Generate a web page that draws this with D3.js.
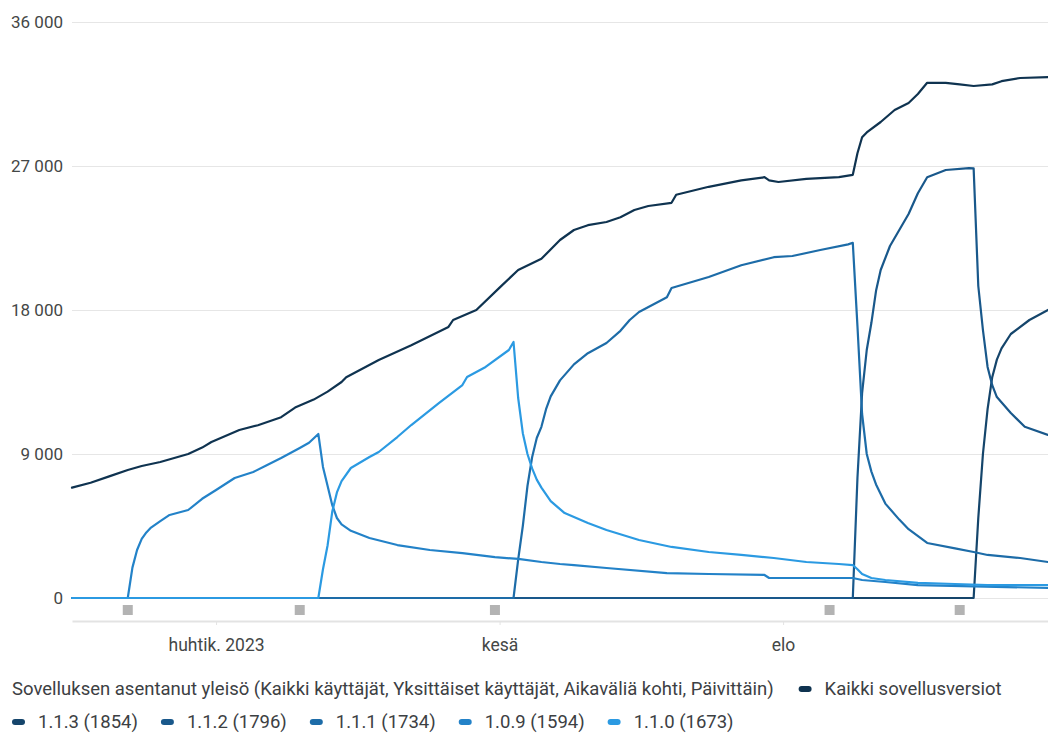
<!DOCTYPE html>
<html>
<head>
<meta charset="utf-8">
<script src="https://cdn.jsdelivr.net/npm/d3@7"></script>
<style>
  html, body { margin: 0; padding: 0; background: #ffffff; }
  svg { display: block; font-family: Roboto, "Noto Sans", sans-serif; }
</style>
</head>
<body>
<svg id="chart" width="1048" height="734"></svg>
<script>
// Daily installed audience per app version, March – September 2023
const yTicks = [0, 9000, 18000, 27000, 36000];
const xTickDates = ["2023-04-01", "2023-06-01", "2023-08-01"];
const xTickLabels = ["huhtik. 2023", "kesä", "elo"];
const releaseDates = ["2023-03-13", "2023-04-19", "2023-05-31", "2023-08-11", "2023-09-08"];

const seriesNames = ["Kaikki sovellusversiot", "1.1.3 (1854)", "1.1.2 (1796)", "1.1.1 (1734)", "1.0.9 (1594)", "1.1.0 (1673)"];
const seriesColors = ["#0f3350", "#15456b", "#19588b", "#1d6ca8", "#2382c8", "#2b9ae2"];
const legendTitle = "Sovelluksen asentanut yleisö (Kaikki käyttäjät, Yksittäiset käyttäjät, Aikaväliä kohti, Päivittäin)";

const allVersions = [
  ["2023-03-01", 6900], ["2023-03-05", 7200], ["2023-03-09", 7600], ["2023-03-13", 8000],
  ["2023-03-16", 8250], ["2023-03-20", 8500], ["2023-03-26", 9000], ["2023-03-29", 9400],
  ["2023-03-31", 9750], ["2023-04-06", 10500], ["2023-04-10", 10800], ["2023-04-15", 11300],
  ["2023-04-18", 11900], ["2023-04-22", 12400], ["2023-04-25", 12900], ["2023-04-28", 13500],
  ["2023-04-29", 13800], ["2023-05-06", 14875], ["2023-05-13", 15800], ["2023-05-21", 16940],
  ["2023-05-22", 17375], ["2023-05-27", 18000], ["2023-06-01", 19400], ["2023-06-05", 20500],
  ["2023-06-10", 21200], ["2023-06-14", 22375], ["2023-06-17", 23000], ["2023-06-20", 23300],
  ["2023-06-24", 23500], ["2023-06-27", 23800], ["2023-06-30", 24250], ["2023-07-03", 24500],
  ["2023-07-08", 24700], ["2023-07-09", 25200], ["2023-07-16", 25700], ["2023-07-23", 26100],
  ["2023-07-28", 26300], ["2023-07-29", 26100], ["2023-07-31", 26000], ["2023-08-06", 26200],
  ["2023-08-13", 26300], ["2023-08-16", 26450], ["2023-08-17", 27800], ["2023-08-18", 28800],
  ["2023-08-19", 29100], ["2023-08-22", 29750], ["2023-08-25", 30500], ["2023-08-28", 30940],
  ["2023-08-30", 31500], ["2023-09-01", 32200], ["2023-09-05", 32200], ["2023-09-08", 32100],
  ["2023-09-11", 32000], ["2023-09-15", 32100], ["2023-09-17", 32300], ["2023-09-21", 32500],
  ["2023-09-27", 32560]
];

const v113 = [
  ["2023-03-01", 0], ["2023-09-11", 0], ["2023-09-12", 5000], ["2023-09-13", 9000],
  ["2023-09-14", 11800], ["2023-09-15", 13800], ["2023-09-16", 14900], ["2023-09-17", 15600],
  ["2023-09-19", 16500], ["2023-09-23", 17375], ["2023-09-27", 18000]
];

const v112 = [
  ["2023-03-01", 0], ["2023-08-16", 0], ["2023-08-17", 7500], ["2023-08-18", 12800],
  ["2023-08-19", 15500], ["2023-08-20", 17200], ["2023-08-21", 19200], ["2023-08-22", 20500],
  ["2023-08-24", 22000], ["2023-08-26", 23000], ["2023-08-28", 24000], ["2023-08-30", 25300],
  ["2023-09-01", 26300], ["2023-09-05", 26750], ["2023-09-10", 26870], ["2023-09-11", 26850],
  ["2023-09-12", 19500], ["2023-09-13", 16750], ["2023-09-14", 14440], ["2023-09-15", 13300],
  ["2023-09-16", 12560], ["2023-09-19", 11560], ["2023-09-22", 10700], ["2023-09-27", 10190]
];

const v111 = [
  ["2023-03-01", 0], ["2023-06-04", 0], ["2023-06-05", 2400], ["2023-06-06", 4500],
  ["2023-06-07", 7000], ["2023-06-08", 8800], ["2023-06-09", 10000], ["2023-06-10", 10700],
  ["2023-06-11", 11800], ["2023-06-12", 12600], ["2023-06-14", 13600], ["2023-06-17", 14600],
  ["2023-06-20", 15300], ["2023-06-24", 15940], ["2023-06-27", 16700], ["2023-06-29", 17375],
  ["2023-07-01", 17875], ["2023-07-07", 18800], ["2023-07-08", 19375], ["2023-07-16", 20060],
  ["2023-07-23", 20800], ["2023-07-30", 21300], ["2023-08-03", 21375], ["2023-08-09", 21750],
  ["2023-08-15", 22100], ["2023-08-16", 22200], ["2023-08-17", 17000], ["2023-08-18", 11500],
  ["2023-08-19", 9000], ["2023-08-20", 7900], ["2023-08-21", 7100], ["2023-08-23", 5900],
  ["2023-08-26", 4900], ["2023-08-28", 4300], ["2023-09-01", 3440], ["2023-09-07", 3100],
  ["2023-09-11", 2875], ["2023-09-14", 2690], ["2023-09-21", 2500], ["2023-09-27", 2250]
];

const v109 = [
  ["2023-03-01", 0], ["2023-03-13", 0], ["2023-03-14", 1900], ["2023-03-15", 3000],
  ["2023-03-16", 3700], ["2023-03-17", 4100], ["2023-03-18", 4400], ["2023-03-20", 4800],
  ["2023-03-22", 5190], ["2023-03-26", 5500], ["2023-03-29", 6200], ["2023-04-01", 6750],
  ["2023-04-05", 7500], ["2023-04-09", 7875], ["2023-04-12", 8310], ["2023-04-15", 8750],
  ["2023-04-19", 9375], ["2023-04-21", 9700], ["2023-04-23", 10250], ["2023-04-24", 8190],
  ["2023-04-25", 7000], ["2023-04-26", 5800], ["2023-04-27", 5000], ["2023-04-28", 4600],
  ["2023-04-30", 4200], ["2023-05-04", 3750], ["2023-05-10", 3310], ["2023-05-17", 3000],
  ["2023-05-24", 2810], ["2023-05-31", 2560], ["2023-06-05", 2440], ["2023-06-10", 2250],
  ["2023-06-14", 2125], ["2023-06-17", 2060], ["2023-06-24", 1875], ["2023-07-07", 1560],
  ["2023-07-16", 1500], ["2023-07-28", 1440], ["2023-07-29", 1250], ["2023-08-06", 1250],
  ["2023-08-16", 1250], ["2023-08-18", 1125], ["2023-08-23", 1000], ["2023-08-30", 810],
  ["2023-09-27", 625]
];

const v110 = [
  ["2023-03-01", 0], ["2023-04-23", 0], ["2023-04-24", 1800], ["2023-04-25", 3300],
  ["2023-04-26", 5400], ["2023-04-27", 6600], ["2023-04-28", 7300], ["2023-04-30", 8125],
  ["2023-05-04", 8810], ["2023-05-06", 9125], ["2023-05-10", 10060], ["2023-05-13", 10810],
  ["2023-05-19", 12190], ["2023-05-24", 13310], ["2023-05-25", 13810], ["2023-05-29", 14440],
  ["2023-06-03", 15500], ["2023-06-04", 16000], ["2023-06-05", 12500], ["2023-06-06", 10300],
  ["2023-06-07", 9000], ["2023-06-08", 8100], ["2023-06-09", 7400], ["2023-06-10", 6900],
  ["2023-06-12", 6050], ["2023-06-14", 5550], ["2023-06-15", 5310], ["2023-06-20", 4690],
  ["2023-06-24", 4250], ["2023-07-01", 3625], ["2023-07-08", 3190], ["2023-07-16", 2875],
  ["2023-07-23", 2690], ["2023-07-30", 2500], ["2023-08-06", 2250], ["2023-08-13", 2125],
  ["2023-08-16", 2060], ["2023-08-17", 1800], ["2023-08-18", 1500], ["2023-08-20", 1250],
  ["2023-08-23", 1125], ["2023-08-30", 940], ["2023-09-07", 875], ["2023-09-14", 810],
  ["2023-09-27", 810]
];

const seriesData = [allVersions, v113, v112, v111, v109, v110];

const parse = d3.utcParse("%Y-%m-%d");
const fi = d3.formatLocale({ decimal: ",", thousands: "\u00a0", grouping: [3], currency: ["", "\u00a0€"] });
const fmt = fi.format(",d");

const svg = d3.select("#chart");
const W = 1048, H = 734;
const plotLeft = 72, plotRight = 1048, plotTop = 22, zeroY = 598;

svg.append("rect").attr("width", W).attr("height", H).attr("fill", "#ffffff");

const x = d3.scaleUtc()
  .domain([parse("2023-03-01"), parse("2023-09-27")])
  .range([plotLeft, plotRight]);
const y = d3.scaleLinear().domain([0, 36000]).range([zeroY, plotTop]);

// horizontal grid + value labels
const yAxis = svg.append("g")
  .attr("transform", `translate(${plotLeft},0)`)
  .call(d3.axisLeft(y).tickValues(yTicks).tickFormat(fmt).tickSize(-(plotRight - plotLeft)).tickPadding(9));
yAxis.select(".domain").remove();
yAxis.selectAll(".tick line").attr("stroke", "#e6e6e6").attr("stroke-width", 1);
yAxis.selectAll(".tick text")
  .attr("fill", "#444746").style("font-size", "17px").style("font-family", "Roboto, sans-serif");

// date axis below the release markers
const axisY = 621;
const xAxis = svg.append("g")
  .attr("transform", `translate(0,${axisY})`)
  .call(d3.axisBottom(x)
    .tickValues(xTickDates.map(parse))
    .tickFormat((d, i) => xTickLabels[i])
    .tickSize(4).tickSizeOuter(0).tickPadding(14));
xAxis.select(".domain").attr("stroke", "#e3e3e3").attr("stroke-width", 2);
xAxis.selectAll(".tick line").attr("stroke", "#e3e3e3");
xAxis.selectAll(".tick text")
  .attr("fill", "#444746").style("font-size", "17.5px").style("font-family", "Roboto, sans-serif");

// version lines
const line = d3.line()
  .x(d => x(parse(d[0])))
  .y(d => y(d[1]))
  .curve(d3.curveLinear);

svg.append("defs").append("clipPath").attr("id", "plotClip")
  .append("rect").attr("x", plotLeft - 2).attr("y", 0).attr("width", plotRight - plotLeft + 2).attr("height", zeroY + 3);

const lines = svg.append("g").attr("clip-path", "url(#plotClip)");
seriesData.forEach((data, i) => {
  lines.append("path")
    .datum(data)
    .attr("d", line)
    .attr("fill", "none")
    .attr("stroke", seriesColors[i])
    .attr("stroke-width", 2.2)
    .attr("stroke-linejoin", "round")
    .attr("stroke-linecap", "round");
});

// release annotation markers
svg.append("g").selectAll("rect")
  .data(releaseDates)
  .join("rect")
  .attr("x", d => x(parse(d)) - 5)
  .attr("y", 605)
  .attr("width", 10)
  .attr("height", 10)
  .attr("fill", "#b3b3b3");

// legend
const legend = svg.append("g").style("font-size", "18.5px").attr("fill", "#3c4043");
const title = legend.append("text")
  .attr("x", 12).attr("y", 689).attr("dy", "0.35em")
  .text(legendTitle);

function legendItem(xPos, yPos, i) {
  legend.append("rect")
    .attr("x", xPos).attr("y", yPos - 3)
    .attr("width", 13).attr("height", 6).attr("rx", 3)
    .attr("fill", seriesColors[i]);
  const t = legend.append("text")
    .attr("x", xPos + 26).attr("y", yPos).attr("dy", "0.35em")
    .text(seriesNames[i]);
  return xPos + 26 + t.node().getComputedTextLength();
}

const titleEnd = 12 + title.node().getComputedTextLength();
legendItem(titleEnd + 25, 689, 0);

let cursor = 12;
for (let i = 1; i < seriesNames.length; i++) {
  cursor = legendItem(cursor, 722, i) + 23;
}
</script>
</body>
</html>
